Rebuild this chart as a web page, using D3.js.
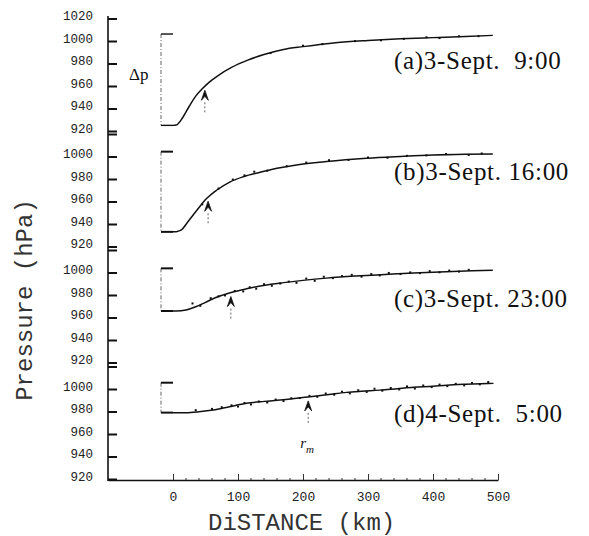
<!DOCTYPE html>
<html>
<head>
<meta charset="utf-8">
<script src="https://cdn.jsdelivr.net/npm/d3@7"></script>
<style>
  html, body { margin: 0; padding: 0; background: #fff; }
  svg { display: block; }
</style>
</head>
<body>
<svg id="chart" width="589" height="536"></svg>
<script>
// ---------- DATA ----------
const panelLabels = ["(a)3-Sept.  9:00", "(b)3-Sept. 16:00", "(c)3-Sept. 23:00", "(d)4-Sept.  5:00"];
const yTickValues = [920, 940, 960, 980, 1000, 1020];
const xTickValues = [0, 100, 200, 300, 400, 500];
const xMinorTicks = [20, 40, 60, 80, 120, 140, 160, 180, 220, 240, 260, 280, 320, 340, 360, 380, 420, 440, 460, 480];

// fitted profiles (distance km, pressure hPa)
const curveA_km = [0, 5, 15, 25, 35, 45, 55, 70, 90, 115, 140, 170, 200, 250, 300, 350, 400, 450, 492];
const curveA_p  = [925, 925.3, 932, 942, 951, 957.5, 963, 969.5, 976.5, 983, 988, 992.5, 995, 998.5, 1000.5, 1002, 1003, 1004, 1005];
const curveB_km = [0, 5, 13, 21, 31, 41, 52, 67, 88, 108, 134, 160, 190, 236, 298, 350, 400, 450, 492];
const curveB_p  = [933, 933.2, 934.7, 940.5, 948, 955.4, 962.8, 970, 977.5, 982, 986, 989.5, 992.5, 995.5, 998.4, 1000, 1001.3, 1002, 1002.3];
const curveC_km = [0, 5, 20, 35, 50, 65, 88, 113, 139, 170, 200, 236, 280, 320, 370, 420, 460, 492];
const curveC_p  = [965.8, 965.8, 966.7, 969.5, 973.5, 977.5, 982, 985.5, 988.5, 991, 993, 995, 996.8, 998, 999.5, 1000.7, 1001.5, 1002];
const curveD_km = [0, 20, 40, 62, 85, 113, 140, 165, 190, 211, 240, 267, 290, 318, 345, 370, 400, 421, 450, 493];
const curveD_p  = [979, 979, 979.8, 981.3, 984, 987.3, 989, 990.2, 991.7, 993.2, 995.2, 997, 998, 999, 1000.3, 1001.5, 1002.5, 1003.4, 1004.2, 1005];

// observed points (distance km, pressure hPa)
const obsA = [[150,989.3],[200,995.8],[230,997.2],[280,999.9],[320,1000.6],[355,1001.9],[390,1003.3],[410,1002.6],[440,1004.2],[470,1004.3]];
const obsB = [[45,957.5],[70,971.5],[92,979.5],[110,983.2],[125,986.5],[145,987.4],[175,991.4],[205,994.6],[240,996.7],[270,996.9],[300,999.1],[330,998.9],[360,1000.6],[390,1001.0],[420,1002.2],[455,1001.4],[475,1002.7]];
const obsC = [[30,972.5],[42,970.4],[58,977.2],[70,978.8],[80,979.6],[95,983.6],[108,983.2],[118,986.9],[128,985.6],[140,989.6],[152,988.2],[165,990.2],[178,991.9],[190,990.8],[205,994.6],[218,992.6],[232,996.2],[246,995.0],[260,996.8],[275,997.9],[290,996.3],[305,998.6],[318,997.4],[332,999.6],[350,998.6],[365,1000.1],[380,999.4],[395,1001.2],[410,1000.2],[425,1001.7],[440,1000.8],[455,1002.4]];
const obsD = [[35,981.2],[60,982.3],[75,983.8],[90,985.5],[100,984.4],[110,987.6],[120,986.3],[132,988.9],[145,988.0],[158,990.6],[170,989.3],[182,991.8],[195,992.0],[210,993.9],[222,993.1],[235,996.0],[248,994.9],[260,997.6],[272,996.1],[285,998.9],[298,997.4],[310,1000.2],[322,998.5],[335,1000.9],[348,999.6],[360,1002.3],[372,1000.4],[385,1003.1],[398,1001.7],[410,1003.9],[422,1002.5],[435,1004.6],[448,1003.2],[460,1005.4],[472,1004.1],[485,1006.2]];

// radius of maximum wind (km) and Δp bracket (min, ambient)
const rmKm = [49, 54, 89, 208];
const bracketLow = [925, 933, 965.8, 979];
const bracketHigh = [1006.2, 1004.3, 1003.7, 1005.6];

// ---------- LAYOUT ----------
const svg = d3.select("#chart");
const panelTops = [18.5, 134, 250, 366.5];
const panelH = 112.5;
const axisX = 108;
const baseY = 480;

const x = d3.scaleLinear().domain([-100, 500]).range([108, 498]);

const curves = [
  {km: curveA_km, p: curveA_p, obs: obsA},
  {km: curveB_km, p: curveB_p, obs: obsB},
  {km: curveC_km, p: curveC_p, obs: obsC},
  {km: curveD_km, p: curveD_p, obs: obsD}
];

const monoFont = "'Liberation Mono', 'DejaVu Sans Mono', monospace";
const serifFont = "'Liberation Serif', 'DejaVu Serif', serif";

// main vertical axis line
svg.append("line")
  .attr("x1", axisX).attr("x2", axisX)
  .attr("y1", 16).attr("y2", baseY + 1)
  .attr("stroke", "#111").attr("stroke-width", 1.6);

curves.forEach((c, i) => {
  const y = d3.scaleLinear().domain([920, 1020]).range([panelTops[i] + panelH, panelTops[i]]);

  // y axis with ticks pointing inward
  const ax = d3.axisLeft(y)
    .tickValues(yTickValues)
    .tickSizeInner(-9).tickSizeOuter(0).tickPadding(15)
    .tickFormat(v => (i > 0 && v === 1020) ? "" : d3.format("d")(v));
  const g = svg.append("g").attr("transform", `translate(${axisX},0)`).call(ax);
  g.select(".domain").remove();
  g.selectAll(".tick line").attr("stroke", "#111").attr("stroke-width", 2);
  g.selectAll(".tick text")
    .attr("font-family", monoFont).attr("font-size", 12.5)
    .attr("fill", "#222").attr("dy", "0.1em");

  // Δp bracket
  const bx = 161;
  svg.append("line")
    .attr("x1", bx).attr("x2", bx)
    .attr("y1", y(bracketHigh[i])).attr("y2", y(bracketLow[i]))
    .attr("stroke", "#666").attr("stroke-width", 1)
    .attr("stroke-dasharray", "4,2,1,2");
  svg.append("line")
    .attr("x1", bx).attr("x2", x(0))
    .attr("y1", y(bracketHigh[i])).attr("y2", y(bracketHigh[i]))
    .attr("stroke", "#111").attr("stroke-width", i === 0 ? 1.4 : 2);
  svg.append("line")
    .attr("x1", bx).attr("x2", x(0))
    .attr("y1", y(bracketLow[i])).attr("y2", y(bracketLow[i]))
    .attr("stroke", "#111").attr("stroke-width", i === 0 ? 1.4 : 2);

  // fitted curve
  const pts = c.km.map((k, j) => [k, c.p[j]]);
  const line = d3.line().x(d => x(d[0])).y(d => y(d[1])).curve(d3.curveMonotoneX);
  svg.append("path").datum(pts)
    .attr("d", line)
    .attr("fill", "none").attr("stroke", "#111").attr("stroke-width", 1.5);

  // observations
  svg.append("g").selectAll("rect").data(c.obs).join("rect")
    .attr("x", d => x(d[0]) - 1).attr("y", d => y(d[1]) - 1)
    .attr("width", 2).attr("height", 2).attr("fill", "#111");

  // r_m arrow
  const interp = d3.scaleLinear().domain(c.km).range(c.p);
  const ax0 = x(rmKm[i]);
  const tipY = y(interp(rmKm[i])) + 4;
  svg.append("path")
    .attr("d", `M${ax0 - 3.5},${tipY + 10} L${ax0},${tipY} L${ax0 + 3.5},${tipY + 10} L${ax0},${tipY + 6} Z`)
    .attr("fill", "#111").attr("stroke", "#111").attr("stroke-width", 0.8);
  svg.append("line")
    .attr("x1", ax0).attr("x2", ax0)
    .attr("y1", tipY + 12).attr("y2", tipY + 24)
    .attr("stroke", "#555").attr("stroke-width", 0.9)
    .attr("stroke-dasharray", "2,2");

  // panel label
  const labelY = [69, 179.5, 307, 421.5][i];
  svg.append("text")
    .attr("x", 394).attr("y", labelY)
    .attr("font-family", serifFont).attr("font-size", 25)
    .attr("letter-spacing", "0.7px")
    .attr("fill", "#111")
    .style("white-space", "pre")
    .text(panelLabels[i]);
});

// Δp text
svg.append("text")
  .attr("x", 129).attr("y", 80)
  .attr("font-family", serifFont).attr("font-size", 17).attr("fill", "#111")
  .text("Δp");

// r_m label
const rmText = svg.append("text")
  .attr("x", x(rmKm[3]) - 8).attr("y", 448)
  .attr("font-family", serifFont).attr("font-size", 15)
  .attr("font-style", "italic").attr("fill", "#111");
rmText.append("tspan").text("r");
rmText.append("tspan").attr("dy", 5).attr("font-size", 11).text("m");

// x axis
const xAxis = d3.axisBottom(x)
  .tickValues(xTickValues)
  .tickSizeInner(-6).tickSizeOuter(0).tickPadding(12)
  .tickFormat(d3.format("d"));
const gx = svg.append("g").attr("transform", `translate(0,${baseY})`).call(xAxis);
gx.select(".domain").attr("stroke", "#111").attr("stroke-width", 1.6);
gx.selectAll(".tick line").attr("stroke", "#333").attr("stroke-width", 1);
gx.selectAll(".tick text")
  .attr("font-family", monoFont).attr("font-size", 13).attr("fill", "#222");

svg.append("g").selectAll("line").data(xMinorTicks).join("line")
  .attr("x1", d => x(d)).attr("x2", d => x(d))
  .attr("y1", baseY).attr("y2", baseY - 2)
  .attr("stroke", "#333").attr("stroke-width", 1);

// axis titles
svg.append("text")
  .attr("x", 208).attr("y", 530)
  .attr("font-family", monoFont).attr("font-size", 24)
  .attr("fill", "#333")
  .style("white-space", "pre")
  .text("DiSTANCE (km)");

svg.append("text")
  .attr("transform", "translate(32,300) rotate(-90)")
  .attr("text-anchor", "middle")
  .attr("font-family", monoFont).attr("font-size", 24)
  .attr("fill", "#333")
  .style("white-space", "pre")
  .text("Pressure (hPa)");
</script>
</body>
</html>
